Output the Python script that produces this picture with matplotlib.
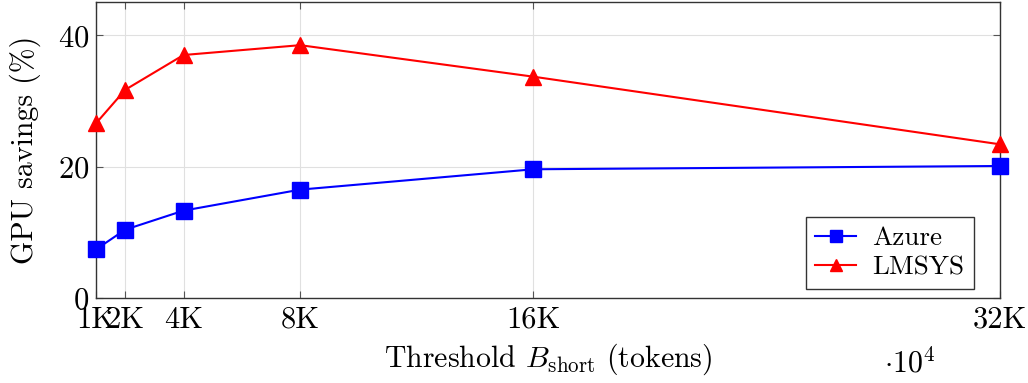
import numpy as np
import matplotlib
matplotlib.use("Agg")
import matplotlib.pyplot as plt

plt.rcParams['font.family'] = 'serif'
plt.rcParams['font.serif'] = ['cmr10']
plt.rcParams['mathtext.fontset'] = 'cm'
plt.rcParams['axes.formatter.use_mathtext'] = True

# threshold (tokens) and GPU savings (%)
thresholds = np.array([1000, 2000, 4000, 8000, 16000, 32000])
tick_labels = ['1K', '2K', '4K', '8K', '16K', '32K']
azure = np.array([7.4, 10.4, 13.3, 16.5, 19.6, 20.1])
lmsys = np.array([26.6, 31.7, 37.0, 38.5, 33.7, 23.4])

fs = 22

fig = plt.figure(figsize=(10.28, 3.83), dpi=100)
ax = fig.add_axes([0.0934, 0.222, 0.8794, 0.7715])

ax.plot(thresholds, azure, color='blue', marker='s', markersize=11, lw=1.5, label='Azure', clip_on=False, zorder=3)
ax.plot(thresholds, lmsys, color='red', marker='^', markersize=11, lw=1.5, label='LMSYS', clip_on=False, zorder=3)

ax.set_xlim(1000, 32000)
ax.set_ylim(0, 45)
ax.set_xticks(thresholds)
ax.set_xticklabels(tick_labels)
ax.set_yticks([0, 20, 40])
ax.tick_params(direction='in', top=True, right=True, labelsize=fs, color='#555555', length=5)
ax.tick_params(axis='x', pad=6)
ax.tick_params(axis='y', pad=5)
ax.grid(True, color='#e0e0e0', lw=0.8)
ax.set_axisbelow(True)
for s in ax.spines.values():
    s.set_linewidth(1.0)
    s.set_color('#333333')

ax.set_ylabel('GPU savings (%)', fontsize=21.5, labelpad=12)
ax.set_xlabel(r'Threshold $B_{\mathrm{short}}$ (tokens)', fontsize=21.5, labelpad=6)
ax.text(0.9, -0.22, r'$\cdot 10^{4}$', transform=ax.transAxes, fontsize=21.5, ha='center', va='center')

leg = ax.legend(loc='lower right', fontsize=19.5, frameon=True, fancybox=False, edgecolor='black',
                bbox_to_anchor=(0.971, 0.03), borderpad=0.35, handlelength=1.5, handletextpad=0.6,
                labelspacing=0.2, borderaxespad=0.0, markerscale=0.75)
leg.get_frame().set_linewidth(1.0)

fig.savefig('out.png', dpi=100)
